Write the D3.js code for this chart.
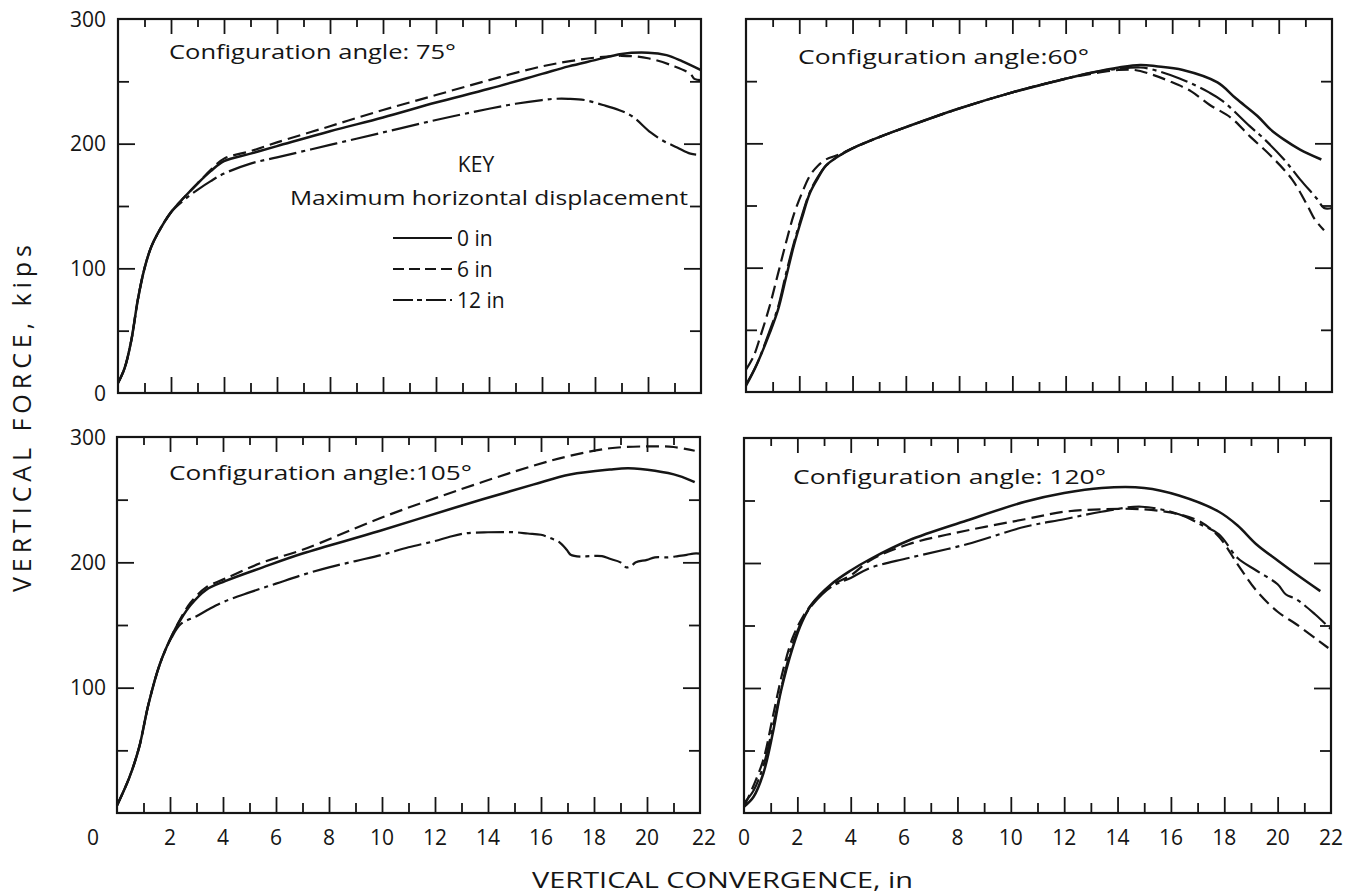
<!DOCTYPE html>
<html><head><meta charset="utf-8">
<script src="https://cdn.jsdelivr.net/npm/d3@7"></script>
<style>
body{margin:0;background:#fff;}
svg text{font-family:"Open Sans","DejaVu Sans",sans-serif;fill:#151515;}
</style></head>
<body><svg id="chart" width="1359" height="894"></svg>
<script>
// ---------------- DATA ----------------
const xTickLabels = [0,2,4,6,8,10,12,14,16,18,20,22];
const yTickLabelsTop = [0,100,200,300];
const yTickLabelsBottom = [100,200,300];
const seriesNames = ["0 in","6 in","12 in"];
const panelTitles = ["Configuration angle: 75°","Configuration angle:60°","Configuration angle:105°","Configuration angle: 120°"];

// Configuration angle 75°
const a75_0in = [[0,8],[0.25,20],[0.5,42],[0.75,75],[1,100],[1.25,117],[1.5,128],[2,145],[2.5,157],[3,168],[3.5,178],[4,186],[5,192],[6,198],[8,210],[10,221],[12,233],[14,244],[16,256],[17,262],[18,267],[19,272],[20,273],[20.7,271],[21.3,266],[22,259]];
const a75_6in = [[0,8],[0.25,20],[0.5,42],[0.75,75],[1,100],[1.25,117],[1.5,128],[2,145],[2.5,157],[3,168],[3.5,179],[4,188],[5,194],[6,201],[8,214],[10,227],[12,239],[14,251],[16,262],[17,266],[18,269],[19,270.5],[20,268.5],[21,262],[21.6,256],[21.75,252],[22,251]];
const a75_12in = [[0,8],[0.25,20],[0.5,42],[0.75,75],[1,100],[1.25,117],[1.5,128],[2,145],[2.5,155],[3,163],[3.5,170],[4,176],[5,184],[6,189],[8,199],[10,209],[12,219],[14,228],[15,232],[16,235],[16.5,236],[17,236],[17.6,235],[18.3,231],[18.9,227],[19.4,222],[20.1,209],[20.6,202],[21.1,197],[21.6,192],[22,191]];

// Configuration angle 60°
const a60_0in = [[0,5],[0.4,22],[0.9,48],[1.2,66],[1.5,92],[1.8,118],[2.1,140],[2.4,160],[2.7,172],[3,182],[3.5,190],[4,196],[5,205],[6,213],[8,228],[10,241],[12,252],[13,257],[14,261],[14.8,263],[15.4,262],[16.4,259],[17.7,249],[18.4,236],[19.2,222],[19.7,211],[20.2,203],[20.8,195],[21.6,187]];
const a60_6in = [[0,18],[0.27,28],[0.53,44],[0.9,70],[1.2,95],[1.5,120],[1.8,143],[2.1,160],[2.4,174],[2.7,182],[3,187],[3.5,191],[4,196],[5,205],[6,213],[8,228],[10,241],[12,252],[13,256],[14,259],[14.6,259],[15.2,255.6],[15.9,250],[16.7,242],[17.4,231],[18.2,220.7],[18.9,206],[19.7,190],[20.5,171],[21.1,149],[21.35,139],[21.7,130]];
const a60_12in = [[0,6],[0.4,22],[0.9,50],[1.2,68],[1.5,95],[1.8,120],[2.1,142],[2.4,161],[2.7,173],[3,182],[3.5,190],[4,196],[5,205],[6,213],[8,228],[10,241],[12,252],[13,257],[14,260],[14.8,261],[15.2,259.7],[16.3,252],[17.4,240.8],[17.9,234],[18.9,214],[19.4,204.6],[20.2,187],[20.8,171],[21.45,155],[21.7,148],[22,148]];

// Configuration angle 105°
const a105_0in = [[0,6],[0.46,28],[0.83,52],[1.19,87],[1.62,119],[2.06,141],[2.42,155],[2.78,166],[3.36,178],[4.08,185],[5.5,196],[7,207],[9.9,225],[12.8,244],[15.7,262],[17.1,270],[18.6,274],[19.3,275],[20.3,273],[21.2,269],[21.8,264]];
const a105_6in = [[0,6],[0.46,28],[0.83,52],[1.19,87],[1.62,119],[2.06,141],[2.42,156],[2.78,168],[3.36,180],[4.08,187],[5.5,200],[7,210],[9.9,235],[12.8,257],[15.7,277],[17.1,285],[18.6,291],[20,292.5],[21,292],[21.8,289]];
const a105_12in = [[0,6],[0.46,28],[0.83,52],[1.19,87],[1.62,119],[2.06,140],[2.42,151],[3,157],[3.5,163],[4.08,169],[5,176],[6,183],[7,190],[8,196],[9,201],[10,206],[11,212],[12,217],[12.5,220],[13.1,223],[14,224],[15,224],[15.5,223],[16,222],[16.4,219],[16.7,216],[16.97,210],[17.12,206],[17.5,204.5],[17.84,205],[18.3,205],[18.57,203],[19,200],[19.22,196],[19.4,197],[19.58,200],[20,202],[20.3,204],[20.8,204],[21.17,205],[21.5,206],[21.75,207],[22,207]];

// Configuration angle 120°
const a120_0in = [[0,5],[0.36,13],[0.73,32],[1.09,65],[1.38,97],[1.82,132],[2.18,153],[2.54,167],[3.27,183],[4,194],[4.72,203],[6.17,218],[8.35,234],[10.53,249],[12,256],[13.4,260],[15,260],[16.3,254],[17.8,241],[18.5,230],[19.2,215],[20,202],[20.7,191],[21.6,177.5]];
const a120_6in = [[0,5],[0.36,22],[0.73,43],[1.09,78],[1.45,113],[1.82,140],[2.18,156],[2.54,167],[3.27,182],[4,190],[4.72,202],[6.17,215],[8.35,226],[10.53,235],[12,241],[13.4,243],[14.9,243],[16.3,239],[17.1,233],[17.8,221],[18.5,199],[19.2,178],[20,161],[20.7,151],[21.4,140],[21.9,132]];
const a120_12in = [[0,8],[0.36,18],[0.73,38],[1.09,70],[1.45,105],[1.82,135],[2.18,154],[2.54,166],[3.27,181],[4,188],[4.72,196],[6.17,204],[8.35,215],[10.53,229],[12,235],[13.4,241],[14.9,245],[16.3,239],[17.1,231],[17.8,223],[18.5,204],[19.2,194],[20,183],[20.3,175],[20.7,171],[21.4,159],[22,147]];

// ---------------- LAYOUT ----------------
const ink = "#151515";
const styles = [
  {dash:null, width:2.5},
  {dash:"13,6", width:2.2},
  {dash:"28,5,4,5", width:2.2}
];
const panels = [
  {x0:118,x1:701,y0:19,y1:393, title:panelTitles[0], tx:169, tb:59, tw:287, series:[a75_0in,a75_6in,a75_12in], ylabels:yTickLabelsTop, xlabels:false, left:true},
  {x0:746,x1:1332,y0:19,y1:392, title:panelTitles[1], tx:798, tb:64, tw:291, series:[a60_0in,a60_6in,a60_12in], ylabels:[], xlabels:false, left:false},
  {x0:117,x1:700,y0:437,y1:813, title:panelTitles[2], tx:169, tb:480, tw:303, series:[a105_0in,a105_6in,a105_12in], ylabels:yTickLabelsBottom, xlabels:true, left:true},
  {x0:744,x1:1331,y0:438,y1:813, title:panelTitles[3], tx:793, tb:484, tw:313, series:[a120_0in,a120_6in,a120_12in], ylabels:[], xlabels:true, left:false}
];

const svg = d3.select("#chart");
svg.append("rect").attr("width",1359).attr("height",894).attr("fill","#fff");

const majX = d3.range(2,22,2), minX = d3.range(1,22,2);
const majY = [100,200], minY = [50,150,250];

panels.forEach(p => {
  const x = d3.scaleLinear().domain([0,22]).range([p.x0,p.x1]);
  const y = d3.scaleLinear().domain([0,300]).range([p.y1,p.y0]);
  const g = svg.append("g");
  const clean = sel => { sel.select(".domain").remove(); sel.selectAll(".tick line").attr("stroke",ink).attr("stroke-width",1.8); sel.selectAll(".tick text").remove(); };

  g.append("g").attr("transform",`translate(0,${p.y1})`).call(d3.axisBottom(x).tickValues(majX).tickSize(-16).tickFormat("")).call(clean);
  g.append("g").attr("transform",`translate(0,${p.y1})`).call(d3.axisBottom(x).tickValues(minX).tickSize(-10).tickFormat("")).call(clean);
  g.append("g").attr("transform",`translate(0,${p.y0})`).call(d3.axisTop(x).tickValues(majX).tickSize(-15).tickFormat("")).call(clean);
  g.append("g").attr("transform",`translate(0,${p.y0})`).call(d3.axisTop(x).tickValues(minX).tickSize(-8).tickFormat("")).call(clean);
  g.append("g").attr("transform",`translate(${p.x0},0)`).call(d3.axisLeft(y).tickValues(majY).tickSize(-17).tickFormat("")).call(clean);
  g.append("g").attr("transform",`translate(${p.x0},0)`).call(d3.axisLeft(y).tickValues(minY).tickSize(-11).tickFormat("")).call(clean);
  g.append("g").attr("transform",`translate(${p.x1},0)`).call(d3.axisRight(y).tickValues(majY).tickSize(-17).tickFormat("")).call(clean);
  g.append("g").attr("transform",`translate(${p.x1},0)`).call(d3.axisRight(y).tickValues(minY).tickSize(-11).tickFormat("")).call(clean);

  g.append("rect").attr("x",p.x0).attr("y",p.y0).attr("width",p.x1-p.x0).attr("height",p.y1-p.y0)
    .attr("fill","none").attr("stroke",ink).attr("stroke-width",2.2);

  const line = d3.line().x(d=>x(d[0])).y(d=>y(d[1])).curve(d3.curveCatmullRom.alpha(0.5));
  p.series.forEach((s,i) => {
    g.append("path").datum(s).attr("d",line).attr("fill","none").attr("stroke",ink)
      .attr("stroke-width",styles[i].width).attr("stroke-dasharray",styles[i].dash)
      .attr("stroke-linecap","butt").attr("stroke-linejoin","round");
  });

  g.append("text").attr("x",p.tx).attr("y",p.tb).attr("font-size",20)
    .attr("textLength",p.tw).attr("lengthAdjust","spacingAndGlyphs").text(p.title);

  p.ylabels.forEach(v => {
    g.append("text").attr("x",106).attr("y",y(v)).attr("dy","0.36em").attr("text-anchor","end")
      .attr("font-size",21).text(v);
  });
  if (p.xlabels) {
    xTickLabels.forEach(v => {
      let dx = 0;
      if (p.left && v===0) dx = -24;
      if (p.left && v===22) dx = 4;
      g.append("text").attr("x",x(v)+dx).attr("y",845).attr("text-anchor","middle")
        .attr("font-size",21).text(v);
    });
  }
});

// Legend (in the 75° panel)
const lg = svg.append("g");
lg.append("text").attr("x",476).attr("y",172).attr("text-anchor","middle").attr("font-size",21).text("KEY");
lg.append("text").attr("x",290).attr("y",205).attr("font-size",20)
  .attr("textLength",398).attr("lengthAdjust","spacingAndGlyphs").text("Maximum horizontal displacement");
const legendY = [238,269,300];
const legendStyles = [null,"11,5","20,4,5,4"];
seriesNames.forEach((n,i) => {
  lg.append("line").attr("x1",393).attr("x2",452).attr("y1",legendY[i]).attr("y2",legendY[i])
    .attr("stroke",ink).attr("stroke-width",2).attr("stroke-dasharray",legendStyles[i]);
  lg.append("text").attr("x",457).attr("y",legendY[i]).attr("dy","0.36em").attr("font-size",21).text(n);
});

// Axis titles
svg.append("text").attr("x",532).attr("y",888).attr("font-size",22)
  .attr("textLength",381).attr("lengthAdjust","spacingAndGlyphs").text("VERTICAL CONVERGENCE, in");
svg.append("text").attr("transform","translate(31,592) rotate(-90)").attr("font-size",25)
  .attr("textLength",347).attr("lengthAdjust","spacing").text("VERTICAL FORCE, kips");
</script>
</body></html>
